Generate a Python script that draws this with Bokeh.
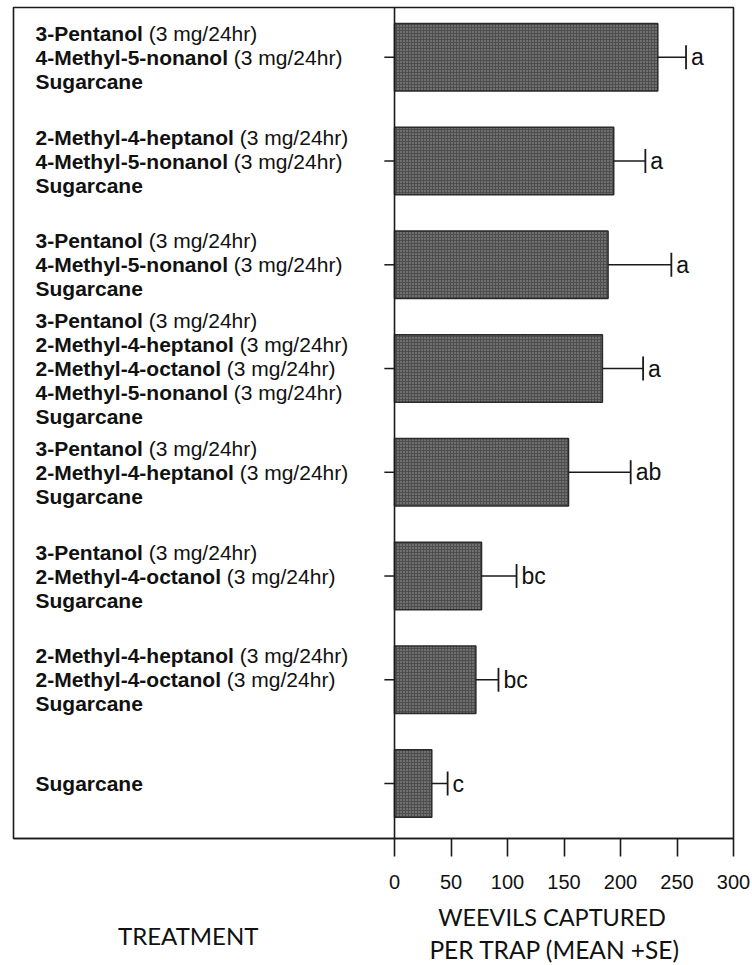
from bokeh.plotting import figure
from bokeh.models import ColumnDataSource, Range1d, Span, FixedTicker
from bokeh.layouts import column
from bokeh.core.properties import value
from bokeh.embed import file_html
from bokeh.resources import INLINE

# ---------------- data ----------------
treatments = [
    ["3-Pentanol", "4-Methyl-5-nonanol", "Sugarcane"],
    ["2-Methyl-4-heptanol", "4-Methyl-5-nonanol", "Sugarcane"],
    ["3-Pentanol", "4-Methyl-5-nonanol", "Sugarcane"],
    ["3-Pentanol", "2-Methyl-4-heptanol", "2-Methyl-4-octanol", "4-Methyl-5-nonanol", "Sugarcane"],
    ["3-Pentanol", "2-Methyl-4-heptanol", "Sugarcane"],
    ["3-Pentanol", "2-Methyl-4-octanol", "Sugarcane"],
    ["2-Methyl-4-heptanol", "2-Methyl-4-octanol", "Sugarcane"],
    ["Sugarcane"],
]
dose_text = "(3 mg/24hr)"
no_dose = "Sugarcane"
means = [233, 194, 189, 184, 154, 77, 72, 33]
se = [25, 28, 56, 36, 55, 31, 20, 14]
letters = ["a", "a", "a", "a", "ab", "bc", "bc", "c"]
x_ticks = [0, 50, 100, 150, 200, 250, 300]
x_title = ["WEEVILS CAPTURED", "PER TRAP (MEAN +SE)"]
y_title = "TREATMENT"

# ---------------- layout ----------------
W = 750
FONT = "Liberation Sans"
LABEL_PX = 21
LINE_GAP = 24
LEFT_DATA = -337.2
Y_TOP, Y_BOT = 0.02, 8.03
MAIN_H = 900
TITLE_H = 63

BOLD_W = {"-": 333, "P": 667, "M": 833, "S": 667, "e": 556, "n": 611, "t": 333,
          "a": 556, "o": 611, "l": 278, "h": 611, "y": 556, "p": 611, "c": 556,
          "u": 611, "g": 611, "r": 389, " ": 278}


def bold_width(s):
    return sum(BOLD_W.get(ch, 556) for ch in s) * LABEL_PX / 1000.0


ycent = [i + 0.5 for i in range(len(means))]
caps = [m + s for m, s in zip(means, se)]

p = figure(width=W, height=MAIN_H, output_backend="svg", toolbar_location=None,
           x_range=Range1d(LEFT_DATA, 300), y_range=Range1d(Y_BOT, Y_TOP),
           min_border_left=13, min_border_right=W - 733, min_border_top=7,
           min_border_bottom=MAIN_H - 838)
p.grid.visible = False
p.yaxis.visible = False
p.outline_line_color = "#1a1a1a"
p.outline_line_width = 1.6
p.background_fill_color = "white"
p.border_fill_color = "white"

ax = p.xaxis[0]
ax.ticker = FixedTicker(ticks=x_ticks)
ax.major_tick_out = 18
ax.major_tick_in = 0
ax.minor_tick_line_color = None
ax.major_tick_line_width = 1.6
ax.major_tick_line_color = "#1a1a1a"
ax.axis_line_color = "#1a1a1a"
ax.axis_line_width = 1.6
ax.major_label_text_font = FONT
ax.major_label_text_font_size = "20px"
ax.major_label_text_color = "#111111"
ax.major_label_standoff = 18

# bars
src = ColumnDataSource(dict(y=ycent, right=means, cap=caps, letter=letters,
                            cy0=[y - 0.115 for y in ycent], cy1=[y + 0.115 for y in ycent],
                            tx0=[-9] * len(ycent), tx1=[0] * len(ycent)))
p.hbar(y="y", left=0, right="right", height=0.65, source=src,
       fill_color="#4e4e4e", line_color="#2a2a2a", line_width=1.5,
       hatch_pattern="dot", hatch_color="#a0a0a0", hatch_scale=3, hatch_weight=1)

# vertical axis line and y ticks
p.add_layout(Span(location=0, dimension="height", line_color="#1a1a1a", line_width=1.6))
p.segment(x0="tx0", x1="tx1", y0="y", y1="y", source=src,
          line_color="#1a1a1a", line_width=1.5)

# error bars
p.segment(x0="right", x1="cap", y0="y", y1="y", source=src, line_color="#1a1a1a", line_width=1.5)
p.segment(x0="cap", x1="cap", y0="cy0", y1="cy1", source=src,
          line_color="#1a1a1a", line_width=1.8)
p.text(x="cap", y="y", text="letter", source=src, x_offset=5,
       text_font=value(FONT), text_font_size="23px", text_baseline="middle",
       text_align="left", text_color="#111111")

# treatment labels (bold compound + normal dose)
bx, by, bt, bxo, byo = [], [], [], [], []
nx, ny, nt, nxo, nyo = [], [], [], [], []
for yc, items in zip(ycent, treatments):
    n = len(items)
    for j, name in enumerate(items):
        yo = (j - (n - 1) / 2.0) * LINE_GAP
        bx.append(LEFT_DATA); by.append(yc); bt.append(name); bxo.append(22); byo.append(yo)
        if name != no_dose:
            nx.append(LEFT_DATA); ny.append(yc); nt.append(dose_text)
            nxo.append(22 + bold_width(name) + 0.278 * LABEL_PX); nyo.append(yo)

bsrc = ColumnDataSource(dict(x=bx, y=by, text=bt, xo=bxo, yo=byo))
nsrc = ColumnDataSource(dict(x=nx, y=ny, text=nt, xo=nxo, yo=nyo))
p.text(x="x", y="y", text="text", x_offset="xo", y_offset="yo", source=bsrc,
       text_font=value(FONT), text_font_style="bold", text_font_size=f"{LABEL_PX}px",
       text_baseline="middle", text_align="left", text_color="#111111")
p.text(x="x", y="y", text="text", x_offset="xo", y_offset="yo", source=nsrc,
       text_font=value(FONT), text_font_size=f"{LABEL_PX}px",
       text_baseline="middle", text_align="left", text_color="#111111")

# ---------------- title strip below ----------------
p2 = figure(width=W, height=TITLE_H, output_backend="svg", toolbar_location=None,
            x_range=Range1d(0, W), y_range=Range1d(TITLE_H, 0),
            min_border_left=0, min_border_right=0, min_border_top=0, min_border_bottom=0)
p2.axis.visible = False
p2.grid.visible = False
p2.outline_line_color = None
p2.border_fill_color = "white"

TFONT = "Lato"
tsrc = ColumnDataSource(dict(x=[182, 561, 564], y=[35, 16, 49],
                             text=[y_title, x_title[0], x_title[1]],
                             size=["24px", "23.5px", "24.5px"]))
p2.text(x="x", y="y", text="text", source=tsrc, text_font=value(TFONT),
        text_font_size="size", text_align="center", text_baseline="middle",
        text_color="#111111")

layout = column(p, p2, spacing=0)
open("out.html", "w").write(file_html(layout, INLINE))
